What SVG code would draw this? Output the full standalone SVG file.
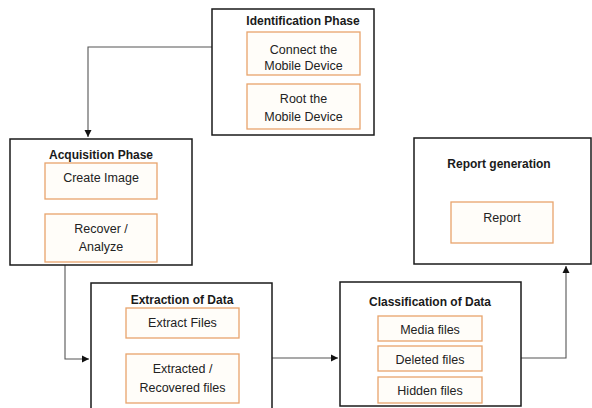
<svg xmlns="http://www.w3.org/2000/svg" width="592" height="408" viewBox="0 0 592 408">
<style>
.outer{fill:#fff;stroke:#1a1a1a;stroke-width:1.5}
.inner{fill:#fffdf9;stroke:#e8a46c;stroke-width:1.3}
.title{font-family:"Liberation Sans",Arial,sans-serif;font-size:12px;font-weight:bold;fill:#1a1a1a;text-anchor:middle}
.lbl{font-family:"Liberation Sans",Arial,sans-serif;font-size:12.5px;fill:#222;text-anchor:middle}
.conn{fill:none;stroke:#555;stroke-width:1.1}
</style>
<defs>
<marker id="ah" markerWidth="8" markerHeight="8" refX="7" refY="4" orient="auto" markerUnits="userSpaceOnUse">
<path d="M0,0.5 L7,4 L0,7.5 Z" fill="#111"/>
</marker>
</defs>
<rect width="592" height="408" fill="#fff"/>
<g id="connectors">
<path class="conn" d="M212,47 H88 V137" marker-end="url(#ah)"/>
<path class="conn" d="M65,265 V359 H89" marker-end="url(#ah)"/>
<path class="conn" d="M272,358 H338" marker-end="url(#ah)"/>
<path class="conn" d="M521,358 H566 V266" marker-end="url(#ah)"/>
</g>
<g id="identification">
<rect class="outer" x="212" y="9" width="162" height="126"/>
<text class="title" x="303" y="25">Identification Phase</text>
<rect class="inner" x="247" y="32" width="113" height="43"/>
<text class="lbl" x="303.5" y="54">Connect the</text>
<text class="lbl" x="303.5" y="70">Mobile Device</text>
<rect class="inner" x="247" y="84" width="113" height="45"/>
<text class="lbl" x="303.5" y="103">Root the</text>
<text class="lbl" x="303.5" y="121">Mobile Device</text>
</g>
<g id="acquisition">
<rect class="outer" x="10" y="139" width="182" height="126"/>
<text class="title" x="101" y="159">Acquisition Phase</text>
<rect class="inner" x="45" y="163" width="112" height="36"/>
<text class="lbl" x="101" y="182">Create Image</text>
<rect class="inner" x="45" y="214" width="112" height="48"/>
<text class="lbl" x="101" y="233">Recover /</text>
<text class="lbl" x="101" y="251">Analyze</text>
</g>
<g id="extraction">
<rect class="outer" x="91" y="283" width="181" height="130"/>
<text class="title" x="182" y="304">Extraction of Data</text>
<rect class="inner" x="126" y="308" width="113" height="30"/>
<text class="lbl" x="182.5" y="327">Extract Files</text>
<rect class="inner" x="126" y="354" width="113" height="49"/>
<text class="lbl" x="182.5" y="373">Extracted /</text>
<text class="lbl" x="182.5" y="392">Recovered files</text>
</g>
<g id="classification">
<rect class="outer" x="340" y="282" width="181" height="124"/>
<text class="title" x="430" y="306">Classification of Data</text>
<rect class="inner" x="378" y="316" width="104" height="25"/>
<text class="lbl" x="430" y="334">Media files</text>
<rect class="inner" x="378" y="346" width="104" height="25"/>
<text class="lbl" x="430" y="364">Deleted files</text>
<rect class="inner" x="378" y="377" width="104" height="26"/>
<text class="lbl" x="430" y="395">Hidden files</text>
</g>
<g id="report">
<rect class="outer" x="414" y="138" width="177" height="126"/>
<text class="title" x="499" y="168">Report generation</text>
<rect class="inner" x="451" y="202" width="102" height="41"/>
<text class="lbl" x="502" y="222">Report</text>
</g>
</svg>
